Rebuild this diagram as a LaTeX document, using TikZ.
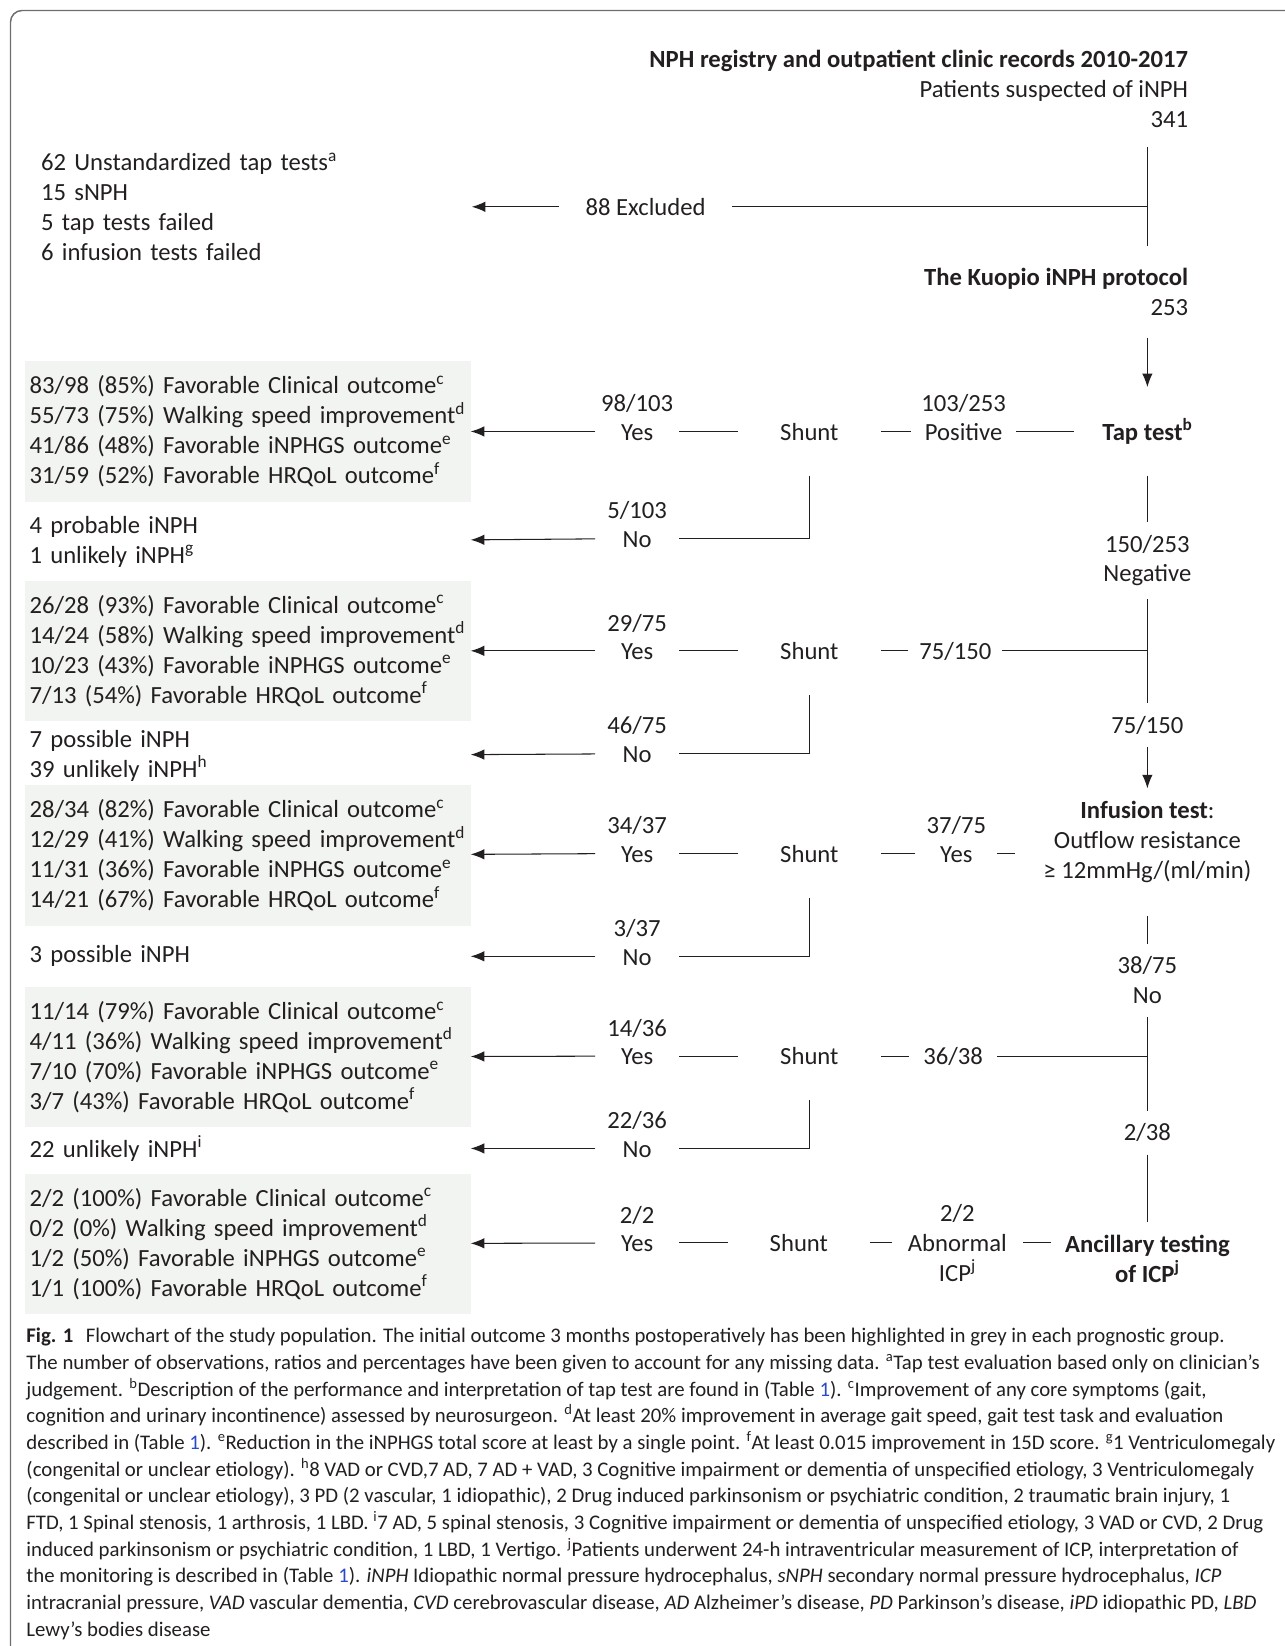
\documentclass[tikz,border=0pt]{standalone}
\usepackage{fontspec}
\setmainfont{Carlito}
\usetikzlibrary{arrows.meta}
\definecolor{boxGrey}{HTML}{F2F4F2}
\definecolor{frameGrey}{HTML}{6E6E6E}
\definecolor{inkBlack}{HTML}{231F20}
\definecolor{refBlue}{HTML}{2A48C8}
\tikzset{
  every node/.style={font=\fontsize{23.5}{28.5}\selectfont, text=inkBlack, inner sep=0pt},
  ln/.style={draw=inkBlack, line width=1pt},
  arr/.style={ln, -{Latex[length=13pt,width=10pt]}},
  grp/.style={anchor=west, fill=boxGrey, text width=416pt, inner xsep=4pt, minimum height=134pt, align=left},
  outTxt/.style={anchor=west, text width=416pt, inner xsep=4pt, align=left},
  mid/.style={text height=18pt, text depth=1pt},
  ans/.style={mid, minimum width=80pt},
  hub/.style={mid, minimum height=84pt},
  spn/.style={align=center, inner ysep=12pt},
}
\newcommand{\fourOut}[4]{#1 Favorable Clinical outcome\textsuperscript{c}\\
  #2 Walking speed improvement\textsuperscript{d}\\
  #3 Favorable iNPHGS outcome\textsuperscript{e}\\
  #4 Favorable HRQoL outcome\textsuperscript{f}}

\begin{document}
\begin{tikzpicture}[x=1pt, y=-1pt, label distance=8pt]
  \useasboundingbox (0,0) rectangle (1224,1568);
  \draw[frameGrey, line width=1.4pt, rounded corners=11pt] (10,1700) -- (10,10) -- (1300,10);
  % registry and exclusion
  \node[anchor=east, align=right] (reg) at (1132,85)
    {\textbf{NPH registry and outpatient clinic records 2010-2017}\\Patients suspected of iNPH\\341};
  \node[anchor=east, align=right] (kuopio) at (1132,278) {\textbf{The Kuopio iNPH protocol}\\253};
  \node[mid, minimum width=165pt] (excl) at (615,197) {88 Excluded};
  \node[outTxt, text width=406pt] (exList) at (35,197)
    {62 Unstandardized tap tests\textsuperscript{a}\\15 sNPH\\5 tap tests failed\\6 infusion tests failed};
  % spine
  \node[hub, minimum width=140pt] (tap) at (1093,411) {\textbf{Tap test\textsuperscript{b}}};
  \node[spn] (neg) at (1093,534) {150/253\\Negative};
  \node[spn] (n75) at (1093,691) {75/150};
  \node[spn, minimum width=252pt] (inf) at (1093,802)
    {\textbf{Infusion test}:\\Outflow resistance\\≥ 12mmHg/(ml/min)};
  \node[spn] (n38) at (1093,934) {38/75\\No};
  \node[spn] (n2) at (1093,1079) {2/38};
  \node[spn, minimum width=184pt] (anc) at (1093,1199) {\textbf{Ancillary testing}\\\textbf{of ICP\textsuperscript{j}}};
  \draw[ln, shorten <=18pt, shorten >=21pt] (reg.south -| tap) -- (kuopio.north -| tap);
  \draw[ln] (excl) -- (excl -| tap);
  \draw[arr] (excl) -- (exList);
  \draw[arr, shorten <=21pt] (kuopio.south -| tap) -- (tap);
  \draw[ln] (tap) -- (neg);
  \draw[ln] (neg) -- (n75);
  \draw[arr] (n75) -- (inf);
  \draw[ln, shorten <=20pt] (inf) -- (n38);
  \draw[ln] (n38) -- (n2);
  \draw[ln] (n2) -- (anc);
  % positive tap test
  \node[mid, minimum width=100pt, label={above:103/253}] (posA) at (918,411) {Positive};
  \node[hub, minimum width=136pt] (shuntA) at (771,411) {Shunt};
  \node[ans, label={above:98/103}] (yesA) at (607,411) {Yes};
  \node[ans, label={above:5/103}] (noA) at (607,513) {No};
  \node[grp] (grpA) at (24,411) {\fourOut{83/98 (85\%)}{55/73 (75\%)}{41/86 (48\%)}{31/59 (52\%)}};
  \node[outTxt] (outA) at (24,516) {4 probable iNPH\\1 unlikely iNPH\textsuperscript{g}};
  \draw[ln] (tap) -- (posA);
  \draw[ln] (posA) -- (shuntA);
  \draw[ln] (shuntA) -- (yesA);
  \draw[ln] (shuntA) |- (noA);
  \draw[arr] (yesA) -- (grpA);
  \draw[arr] (noA) -- (outA);
  % negative tap test
  \node[mid, minimum width=89pt] (b75) at (910,620) {75/150};
  \node[hub, minimum width=136pt] (shuntB) at (771,620) {Shunt};
  \node[ans, label={above:29/75}] (yesB) at (607,620) {Yes};
  \node[ans, label={above:46/75}] (noB) at (607,718) {No};
  \node[grp] (grpB) at (24,620) {\fourOut{26/28 (93\%)}{14/24 (58\%)}{10/23 (43\%)}{7/13 (54\%)}};
  \node[outTxt] (outB) at (24,720) {7 possible iNPH\\39 unlikely iNPH\textsuperscript{h}};
  \draw[ln] (b75) -- (b75 -| tap);
  \draw[ln] (b75) -- (shuntB);
  \draw[ln] (shuntB) -- (yesB);
  \draw[ln] (shuntB) |- (noB);
  \draw[arr] (yesB) -- (grpB);
  \draw[arr] (noB) -- (outB);
  % infusion test positive
  \node[mid, minimum width=78pt, label={above:37/75}] (y37) at (911,813) {Yes};
  \node[hub, minimum width=136pt] (shuntC) at (771,813) {Shunt};
  \node[ans, label={above:34/37}] (yesC) at (607,813) {Yes};
  \node[ans, label={above:3/37}] (noC) at (607,911) {No};
  \node[grp] (grpC) at (24,815) {\fourOut{28/34 (82\%)}{12/29 (41\%)}{11/31 (36\%)}{14/21 (67\%)}};
  \node[outTxt] (outC) at (24,911) {3 possible iNPH};
  \draw[ln] (y37) -- (y37 -| inf.west);
  \draw[ln] (y37) -- (shuntC);
  \draw[ln] (shuntC) -- (yesC);
  \draw[ln] (shuntC) |- (noC);
  \draw[arr] (yesC) -- (grpC);
  \draw[arr] (noC) -- (outC);
  % infusion test negative
  \node[mid, minimum width=84pt] (b36) at (908,1006) {36/38};
  \node[hub, minimum width=136pt] (shuntD) at (771,1006) {Shunt};
  \node[ans, label={above:14/36}] (yesD) at (607,1006) {Yes};
  \node[ans, label={above:22/36}] (noD) at (607,1094) {No};
  \node[grp] (grpD) at (24,1007) {\fourOut{11/14 (79\%)}{4/11 (36\%)}{7/10 (70\%)}{3/7 (43\%)}};
  \node[outTxt] (outD) at (24,1094) {22 unlikely iNPH\textsuperscript{i}};
  \draw[ln] (b36) -- (b36 -| tap);
  \draw[ln] (b36) -- (shuntD);
  \draw[ln] (shuntD) -- (yesD);
  \draw[ln] (shuntD) |- (noD);
  \draw[arr] (yesD) -- (grpD);
  \draw[arr] (noD) -- (outD);
  % ancillary ICP
  \node[align=center, minimum width=125pt] (abn) at (912,1184) {2/2\\Abnormal\\ICP\textsuperscript{j}};
  \node[hub, minimum width=135pt] (shuntE) at (761,1184) {Shunt};
  \node[ans, label={above:2/2}] (yesE) at (607,1184) {Yes};
  \node[grp] (grpE) at (24,1185) {\fourOut{2/2 (100\%)}{0/2 (0\%)}{1/2 (50\%)}{1/1 (100\%)}};
  \draw[ln] (abn) -- (abn -| anc.west);
  \draw[ln] (abn) -- (shuntE);
  \draw[ln] (shuntE) -- (yesE);
  \draw[arr] (yesE) -- (grpE);
  % caption
  \node[anchor=north west, align=left, font=\fontsize{19.8}{25.4}\selectfont] (cap) at (25,1265)
    {\textbf{Fig. 1}\hspace{0.6em}Flowchart of the study population. The initial outcome 3 months postoperatively has been highlighted in grey in each prognostic group.\\
    The number of observations, ratios and percentages have been given to account for any missing data. \textsuperscript{a}Tap test evaluation based only on clinician’s\\
    judgement. \textsuperscript{b}Description of the performance and interpretation of tap test are found in (Table \textcolor{refBlue}{1}). \textsuperscript{c}Improvement of any core symptoms (gait,\\
    cognition and urinary incontinence) assessed by neurosurgeon. \textsuperscript{d}At least 20\% improvement in average gait speed, gait test task and evaluation\\
    described in (Table \textcolor{refBlue}{1}). \textsuperscript{e}Reduction in the iNPHGS total score at least by a single point. \textsuperscript{f}At least 0.015 improvement in 15D score. \textsuperscript{g}1 Ventriculomegaly\\
    (congenital or unclear etiology). \textsuperscript{h}8 VAD or CVD,7 AD, 7 AD + VAD, 3 Cognitive impairment or dementia of unspecified etiology, 3 Ventriculomegaly\\
    (congenital or unclear etiology), 3 PD (2 vascular, 1 idiopathic), 2 Drug induced parkinsonism or psychiatric condition, 2 traumatic brain injury, 1\\
    FTD, 1 Spinal stenosis, 1 arthrosis, 1 LBD. \textsuperscript{i}7 AD, 5 spinal stenosis, 3 Cognitive impairment or dementia of unspecified etiology, 3 VAD or CVD, 2 Drug\\
    induced parkinsonism or psychiatric condition, 1 LBD, 1 Vertigo. \textsuperscript{j}Patients underwent 24-h intraventricular measurement of ICP, interpretation of\\
    the monitoring is described in (Table \textcolor{refBlue}{1}). \textit{iNPH} Idiopathic normal pressure hydrocephalus, \textit{sNPH} secondary normal pressure hydrocephalus, \textit{ICP}\\
    intracranial pressure, \textit{VAD} vascular dementia, \textit{CVD} cerebrovascular disease, \textit{AD} Alzheimer’s disease, \textit{PD} Parkinson’s disease, \textit{iPD} idiopathic PD, \textit{LBD}\\
    Lewy’s bodies disease};
\end{tikzpicture}
\end{document}
